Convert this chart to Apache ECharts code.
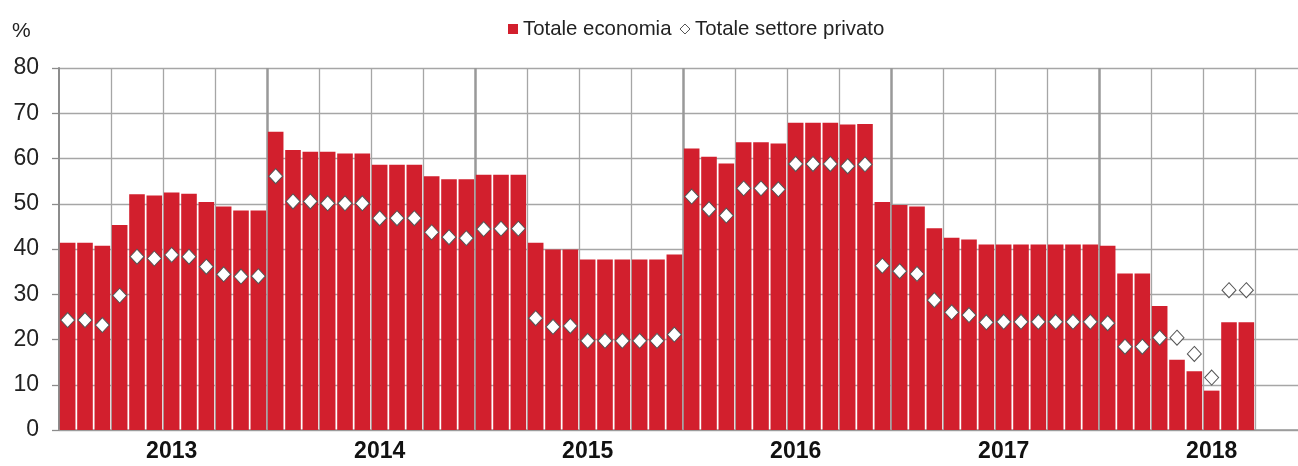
<!DOCTYPE html>
<html>
<head>
<meta charset="utf-8">
<script src="https://cdn.jsdelivr.net/npm/echarts@6/dist/echarts.min.js"></script>
<style>
html,body{margin:0;padding:0;background:#fff;overflow:hidden;}
#c{width:1307px;height:466px;}
</style>
</head>
<body>
<div id="c"></div>
<script>
var years = ['2013','2014','2015','2016','2017','2018'];
var months = ['01','02','03','04','05','06','07','08','09','10','11','12'];
var totaleEconomia = [
  41.4, 41.4, 40.7, 45.3, 52.1, 51.8, 52.5, 52.2, 50.4, 49.4, 48.5, 48.5,
  65.9, 61.9, 61.5, 61.5, 61.1, 61.1, 58.6, 58.6, 58.6, 56.1, 55.4, 55.4,
  56.4, 56.4, 56.4, 41.4, 39.9, 39.9, 37.7, 37.7, 37.7, 37.7, 37.7, 38.8,
  62.2, 60.4, 58.9, 63.6, 63.6, 63.3, 67.9, 67.9, 67.9, 67.5, 67.6, 50.4,
  49.7, 49.4, 44.6, 42.5, 42.1, 41.0, 41.0, 41.0, 41.0, 41.0, 41.0, 41.0,
  40.7, 34.6, 34.6, 27.4, 15.5, 13.0, 8.7, 23.8, 23.8
];
var totaleSettorePrivato = [
  24.3, 24.3, 23.2, 29.7, 38.3, 37.9, 38.7, 38.3, 36.1, 34.4, 33.9, 34.0,
  56.1, 50.5, 50.5, 50.1, 50.1, 50.1, 46.8, 46.8, 46.8, 43.7, 42.6, 42.4,
  44.4, 44.5, 44.5, 24.7, 22.8, 23.0, 19.7, 19.7, 19.7, 19.7, 19.7, 21.1,
  51.6, 48.8, 47.4, 53.4, 53.4, 53.2, 58.8, 58.8, 58.8, 58.3, 58.7, 36.3,
  35.1, 34.5, 28.7, 26.0, 25.4, 23.8, 23.9, 23.9, 23.9, 23.9, 23.9, 23.9,
  23.6, 18.4, 18.4, 20.4, 20.4, 16.8, 11.6, 30.9, 30.9
];
var yTicks = [0, 10, 20, 30, 40, 50, 60, 70, 80];

var categories = [];
years.forEach(function(y){ months.forEach(function(m){ categories.push(y + '-' + m); }); });

var FONT = "'Liberation Sans', Arial, sans-serif";
var chart = echarts.init(document.getElementById('c'), null, {renderer: 'canvas'});
chart.setOption({
  backgroundColor: '#ffffff',
  animation: false,
  textStyle: {fontFamily: FONT},
  graphic: [{
    type: 'text', left: 12, top: 21,
    style: {text: '%', font: "21px " + FONT, fill: '#222'}
  }],
  legend: {
    left: 503, top: 14,
    itemWidth: 10, itemHeight: 10, itemGap: 8,
    textStyle: {fontFamily: FONT, fontSize: 20.4, color: '#222'},
    data: [
      {name: 'Totale economia', icon: 'rect', itemStyle: {color: '#D21F2D', borderWidth: 0}},
      {name: 'Totale settore privato', icon: 'diamond', itemStyle: {color: '#ffffff', borderColor: '#555', borderWidth: 1}}
    ]
  },
  grid: {left: 59, right: 0, top: 68, bottom: 36, containLabel: false},
  xAxis: [{
    type: 'category',
    data: categories,
    boundaryGap: true,
    axisLine: {show: true, onZero: true, lineStyle: {color: '#999', width: 1.5}},
    axisTick: {show: false},
    axisLabel: {
      interval: function(i){ return i % 12 === 6; },
      formatter: function(v){ return v.slice(0,4); },
      fontFamily: FONT, fontWeight: 'bold', fontSize: 23, color: '#111', margin: 10
    },
    splitLine: {
      show: true,
      interval: function(i){ return i % 3 === 0 && i % 12 !== 0; },
      lineStyle: {color: '#a6a6a6', width: 1.3}
    }
  }, {
    type: 'category',
    data: categories,
    position: 'bottom',
    boundaryGap: true,
    axisLine: {show: false},
    axisTick: {show: false},
    axisLabel: {show: false},
    splitLine: {
      show: true,
      interval: function(i){ return i % 12 === 0 && i > 0; },
      lineStyle: {color: '#999', width: 2.5}
    }
  }],
  yAxis: {
    type: 'value',
    min: 0, max: 80, interval: 10,
    axisLine: {show: true, lineStyle: {color: '#8c8c8c', width: 2}},
    axisTick: {show: true, inside: false, length: 7, lineStyle: {color: '#8c8c8c', width: 1.3}},
    axisLabel: {
      fontFamily: FONT, fontSize: 23, color: '#222', margin: 20,
      formatter: function(v){ return yTicks.indexOf(v) >= 0 ? String(v) : ''; }
    },
    splitLine: {show: true, lineStyle: {color: '#a6a6a6', width: 1.3}}
  },
  series: [{
    name: 'Totale economia',
    type: 'bar',
    xAxisIndex: 0,
    data: totaleEconomia,
    barCategoryGap: '10%',
    itemStyle: {color: '#D21F2D'},
    z: 2
  }, {
    name: 'Totale settore privato',
    type: 'scatter',
    xAxisIndex: 0,
    data: totaleSettorePrivato,
    symbol: 'diamond',
    symbolSize: [14, 15],
    itemStyle: {color: '#ffffff', borderColor: '#555', borderWidth: 1, opacity: 1},
    z: 3
  }]
});
</script>
</body>
</html>
